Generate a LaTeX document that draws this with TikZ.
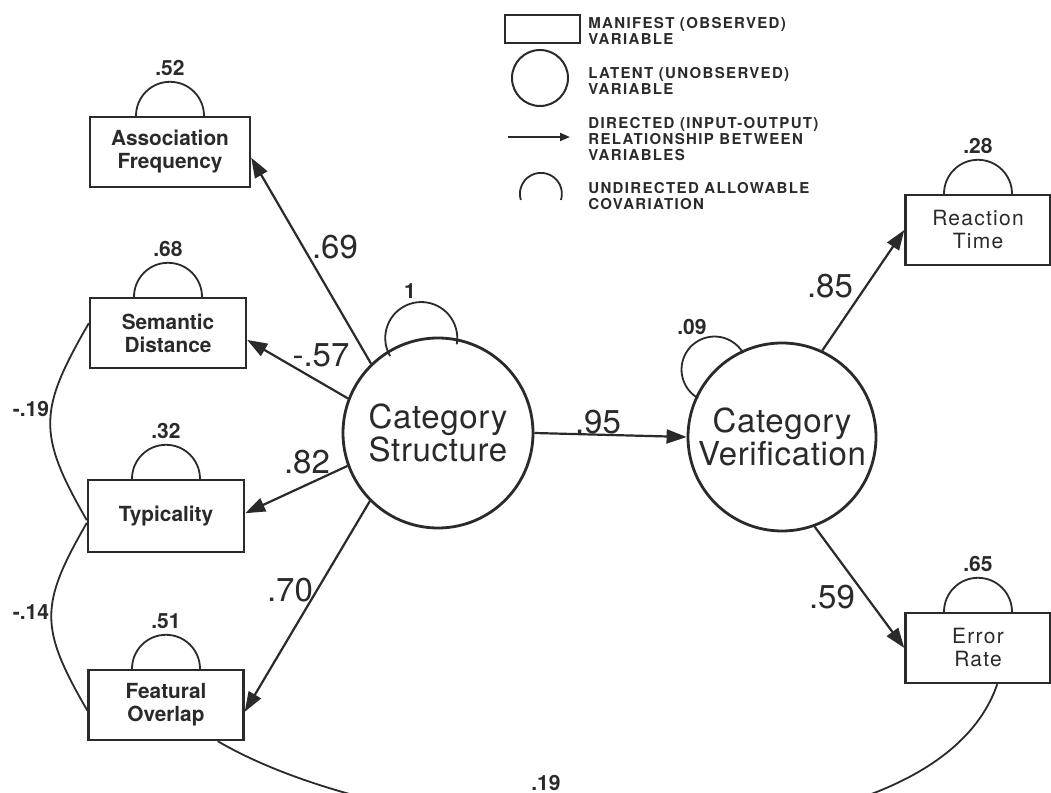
\documentclass[tikz,border=0pt]{standalone}
\usepackage{fontspec}
\setmainfont{TeX Gyre Heros}
\definecolor{ink}{HTML}{2A2A2A}
\usetikzlibrary{arrows.meta}
\tikzset{
  obs_box/.style={draw=ink,line width=1.2pt,minimum width=78pt,minimum height=35pt,inner sep=1pt,
    align=center,text=ink,font=\fontsize{10.4}{11.5}\selectfont\bfseries},
  obs_box_lt/.style={obs_box,minimum width=72.5pt,
    font=\fontsize{10.5}{11.5}\selectfont\addfontfeature{LetterSpace=6}},
  lat_circ/.style={draw=ink,circle,line width=1.4pt,minimum size=95pt,inner sep=0pt,align=center,
    text=ink,font=\fontsize{16.5}{15.5}\selectfont\addfontfeature{LetterSpace=2}},
  coef/.style={inner sep=0pt,text=ink,font=\fontsize{16.5}{16.5}\selectfont},
  var_lbl/.style={inner sep=0pt,text=ink,font=\fontsize{10.5}{10.5}\selectfont\bfseries},
  leg_txt/.style={anchor=west,align=left,inner sep=0pt,text=ink,
    font=\fontsize{7.5}{8}\selectfont\bfseries\addfontfeature{LetterSpace=9}},
  arr/.style={-{Triangle[length=10pt,width=7pt]},draw=ink,line width=1.1pt},
  cov/.style={draw=ink,line width=0.9pt},
}
\begin{document}
\begin{tikzpicture}[x=0.5pt,y=0.5pt]
  \useasboundingbox (0,0) rectangle (1051,793);
  \fill[white] (0,0) rectangle (1051,793);

  % legend
  \node[draw=ink,line width=1pt,minimum width=37.5pt,minimum height=14pt,inner sep=0pt] (lgbox) at (542.5,764) {};
  \node[draw=ink,circle,line width=1pt,minimum size=28pt,inner sep=0pt] (lgcirc) at (540,715) {};
  \coordinate (lga) at (508,656); \coordinate (lgb) at (570,656);
  \draw[-{Triangle[length=5pt,width=4pt]},draw=ink,line width=1pt] (lga) -- (lgb);
  \coordinate (lgarc) at (561,593);
  \draw[cov] (lgarc) arc[start angle=-17,end angle=197,radius=10.5pt];
  \node[leg_txt] (lgt1) at (588,762) {MANIFEST (OBSERVED)\\VARIABLE};
  \node[leg_txt] (lgt2) at (588,712) {LATENT (UNOBSERVED)\\VARIABLE};
  \node[leg_txt] (lgt3) at (588,654) {DIRECTED (INPUT-OUTPUT)\\RELATIONSHIP BETWEEN\\VARIABLES};
  \node[leg_txt] (lgt4) at (588,597) {UNDIRECTED ALLOWABLE\\COVARIATION};

  % observed variables
  \node[obs_box,minimum width=80pt] (af) at (170,641) {Association\\Frequency};
  \node[obs_box] (sd) at (168,460) {Semantic\\Distance};
  \node[obs_box,minimum height=36pt] (typ) at (166,277) {Typicality};
  \node[obs_box,minimum width=77.5pt] (fo) at (166,88) {Featural\\Overlap};
  \node[obs_box_lt] (rt) at (978,563) {Reaction\\Time};
  \node[obs_box_lt] (er) at (978,145) {Error\\Rate};

  % latent variables
  \node[lat_circ] (cs) at (438,360) {Category\\Structure};
  \node[lat_circ,minimum size=94pt] (cv) at (782,356) {Category\\Verification};

  \foreach \n/\v in {af/.52,sd/.68,typ/.32,fo/.51,rt/.28,er/.65}{
    \draw[cov] ([xshift=-17pt]\n.north) arc[start angle=180,end angle=0,radius=17pt];
    \node[var_lbl] (v\n) at ([yshift=24pt]\n.north) {\v};
  }
  \draw[cov] (cs.100) ++(210:36) arc[start angle=210,end angle=-10,radius=18pt];
  \node[var_lbl] (vcs) at (410,502) {1};
  \draw[cov] (cv.135) ++(240:33) arc[start angle=240,end angle=30,radius=16.5pt];
  \node[var_lbl] (vcv) at (692,466) {.09};

  \draw[arr] (cs.134) -- (af.-4);
  \draw[arr] (cs.159) -- (sd.-5);
  \draw[arr] (cs.200) -- (typ.2);
  \draw[arr] (cs.225) -- (fo.-5);
  \draw[arr] (cs.east) -- (cv.west);
  \draw[arr] (cv.65) -- (rt.west);
  \draw[arr] (cv.-70) -- (er.west);

  \node[coef] (c1) at (335,546) {.69};
  \node[coef] (c2) at (321,438) {-.57};
  \node[coef] (c3) at (307,331) {.82};
  \node[coef] (c4) at (290,203) {.70};
  \node[coef] (c5) at (598,371) {.95};
  \node[coef] (c6) at (830,507) {.85};
  \node[coef] (c7) at (832,196) {.59};

  \draw[cov] (sd.173) to[out=240,in=120,looseness=1.3] (typ.183);
  \draw[cov] (typ.185) to[out=240,in=120,looseness=1.3] (fo.184);
  \draw[cov] (fo.-35) .. controls +(202,-118) and +(-67,-196) .. (er.-62);
  \node[var_lbl] (r1) at (31,384) {-.19};
  \node[var_lbl] (r2) at (31,181) {-.14};
  \node[var_lbl] (r3) at (546,10) {.19};
\end{tikzpicture}
\end{document}
